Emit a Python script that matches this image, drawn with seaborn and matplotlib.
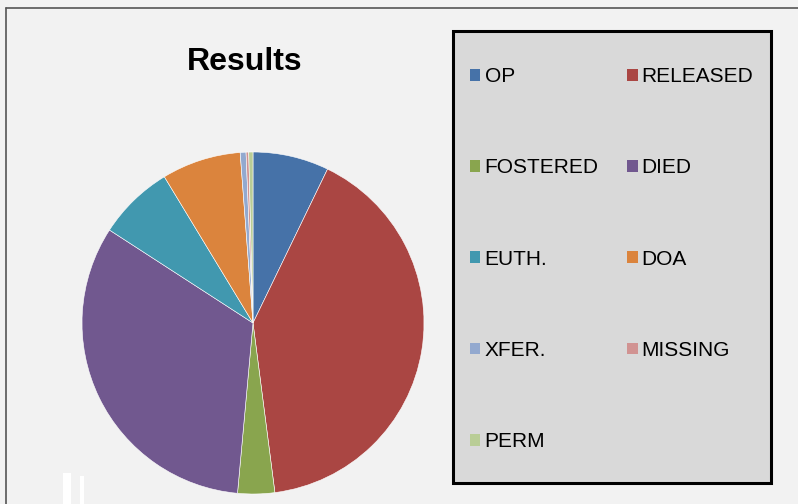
import matplotlib
matplotlib.use("Agg")
import matplotlib.pyplot as plt
import seaborn as sns
from matplotlib.patches import Rectangle
from matplotlib.lines import Line2D

# chart data
labels = ["OP", "RELEASED", "FOSTERED", "DIED", "EUTH.", "DOA", "XFER.", "MISSING", "PERM"]
values = [7.2, 40.9, 3.5, 32.8, 7.2, 7.5, 0.55, 0.25, 0.4]
colors = ["#4672A8", "#AA4643", "#89A54E", "#71588F", "#4198AF",
          "#DB843D", "#93A9CF", "#D19392", "#B9CD96"]

sns.set_style("white")
plt.rcParams["font.family"] = ["Liberation Sans", "DejaVu Sans"]
plt.rcParams["text.color"] = "black"

W, H = 798, 504
fig = plt.figure(figsize=(W / 100, H / 100), dpi=100)
fig.patch.set_facecolor("#F2F2F2")

# pie axes: centre (253, 323), radius 171 px
cx, cy, r = 253, 323, 171
ax = fig.add_axes([(cx - r) / W, (H - cy - r) / H, 2 * r / W, 2 * r / H])
ax.set_facecolor("none")
wedges, _ = ax.pie(values, colors=sns.color_palette(colors), startangle=90,
                   counterclock=False, radius=1,
                   wedgeprops=dict(edgecolor="white", linewidth=0.4))
ax.set_xlim(-1, 1)
ax.set_ylim(-1, 1)
ax.axis("off")

fig.text(245 / W, 1 - 62 / H, "Results", ha="center", va="center",
         fontsize=23, fontweight="bold", color="black")

# legend box
fig.patches.append(Rectangle((453 / W, 1 - 483 / H), 318 / W, 452 / H,
                             transform=fig.transFigure, facecolor="#D9D9D9",
                             edgecolor="black", linewidth=2.2, zorder=0))

# row-major order for a 2-column legend
order = [0, 2, 4, 6, 8, 1, 3, 5, 7]
leg = fig.legend([wedges[i] for i in order], [labels[i] for i in order],
                 ncol=2, loc="upper left", bbox_to_anchor=(470 / W, 1 - 67 / H),
                 frameon=False, fontsize=15, handlelength=0.5, handleheight=0.5,
                 handletextpad=0.2, columnspacing=1.37, labelspacing=3.47,
                 borderpad=0, borderaxespad=0)
for h in leg.legend_handles:
    h.set_edgecolor("none")
for t in leg.get_texts():
    t.set_color("black")

# outer border lines (top and left)
fig.add_artist(Line2D([6 / W, 1], [1 - 8 / H, 1 - 8 / H], color="#555555",
                      linewidth=1.2, transform=fig.transFigure))
fig.add_artist(Line2D([6 / W, 6 / W], [0, 1 - 8 / H], color="#555555",
                      linewidth=1.2, transform=fig.transFigure))

# white marks at bottom left
fig.patches.append(Rectangle((63 / W, 0), 8 / W, 31 / H, transform=fig.transFigure,
                             facecolor="white", edgecolor="none"))
fig.patches.append(Rectangle((80 / W, 0), 4 / W, 28 / H, transform=fig.transFigure,
                             facecolor="white", edgecolor="none"))

fig.savefig("out.png", dpi=100, facecolor=fig.get_facecolor())
